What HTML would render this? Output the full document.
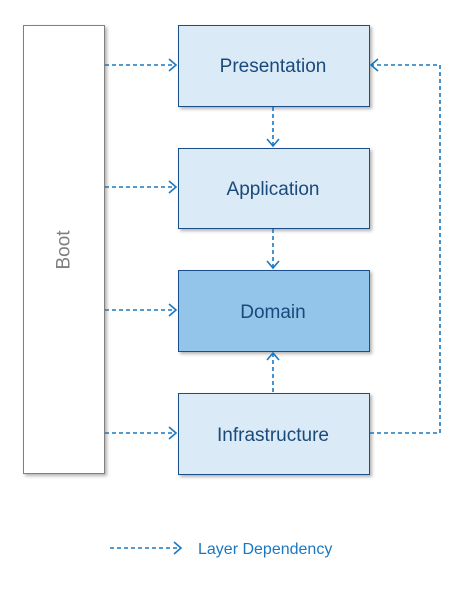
<!DOCTYPE html>
<html><head><style>
body{margin:0;background:#fff;width:468px;height:586px;overflow:hidden}
</style></head><body>
<svg width="468" height="586" xmlns="http://www.w3.org/2000/svg" font-family="Liberation Sans, sans-serif">
<defs>
<filter id="sh" x="-10%" y="-10%" width="130%" height="130%"><feDropShadow dx="2" dy="2" stdDeviation="1.5" flood-color="#000" flood-opacity="0.3"/></filter>
</defs>
<rect x="23.5" y="25.5" width="81" height="448" fill="#fff" stroke="#808080" stroke-width="1" filter="url(#sh)"/>
<text x="64" y="250" transform="rotate(-90 64 250)" text-anchor="middle" dominant-baseline="central" font-size="19" fill="#808080">Boot</text>
<g stroke="#1f4e8c" stroke-width="1" filter="url(#sh)">
<rect x="178.5" y="25.5" width="191" height="81" fill="#dbeaf7"/>
<rect x="178.5" y="148.5" width="191" height="80" fill="#dbeaf7"/>
<rect x="178.5" y="270.5" width="191" height="81" fill="#93c4ea"/>
<rect x="178.5" y="393.5" width="191" height="81" fill="#dbeaf7"/>
</g>
<g font-size="19" fill="#1a4a7a" text-anchor="middle">
<text x="273" y="72">Presentation</text>
<text x="273" y="195">Application</text>
<text x="273" y="318">Domain</text>
<text x="273" y="441">Infrastructure</text>
</g>
<g stroke="#1a78c2" stroke-width="1.6" fill="none" stroke-dasharray="4,3">
<path d="M105 65H176"/><path d="M105 187H176"/><path d="M105 310H176"/><path d="M105 433H176"/>
<path d="M273 107V146"/><path d="M273 229V268"/><path d="M273 392V353"/>
<path d="M370 433H440V65H371"/>
<path d="M110 548H180"/>
</g>
<g stroke="#1a78c2" stroke-width="1.6" fill="none">
<path d="M169 59L176 65L169 71"/><path d="M169 181L176 187L169 193"/><path d="M169 304L176 310L169 316"/><path d="M169 427L176 433L169 439"/>
<path d="M267 139L273 146L279 139"/><path d="M267 261L273 268L279 261"/><path d="M267 360L273 353L279 360"/>
<path d="M378 59L371 65L378 71"/>
<path d="M174 542L181 548L174 554"/>
</g>
<text x="198" y="554" font-size="16" fill="#1a78c2">Layer Dependency</text>
</svg>
</body></html>
